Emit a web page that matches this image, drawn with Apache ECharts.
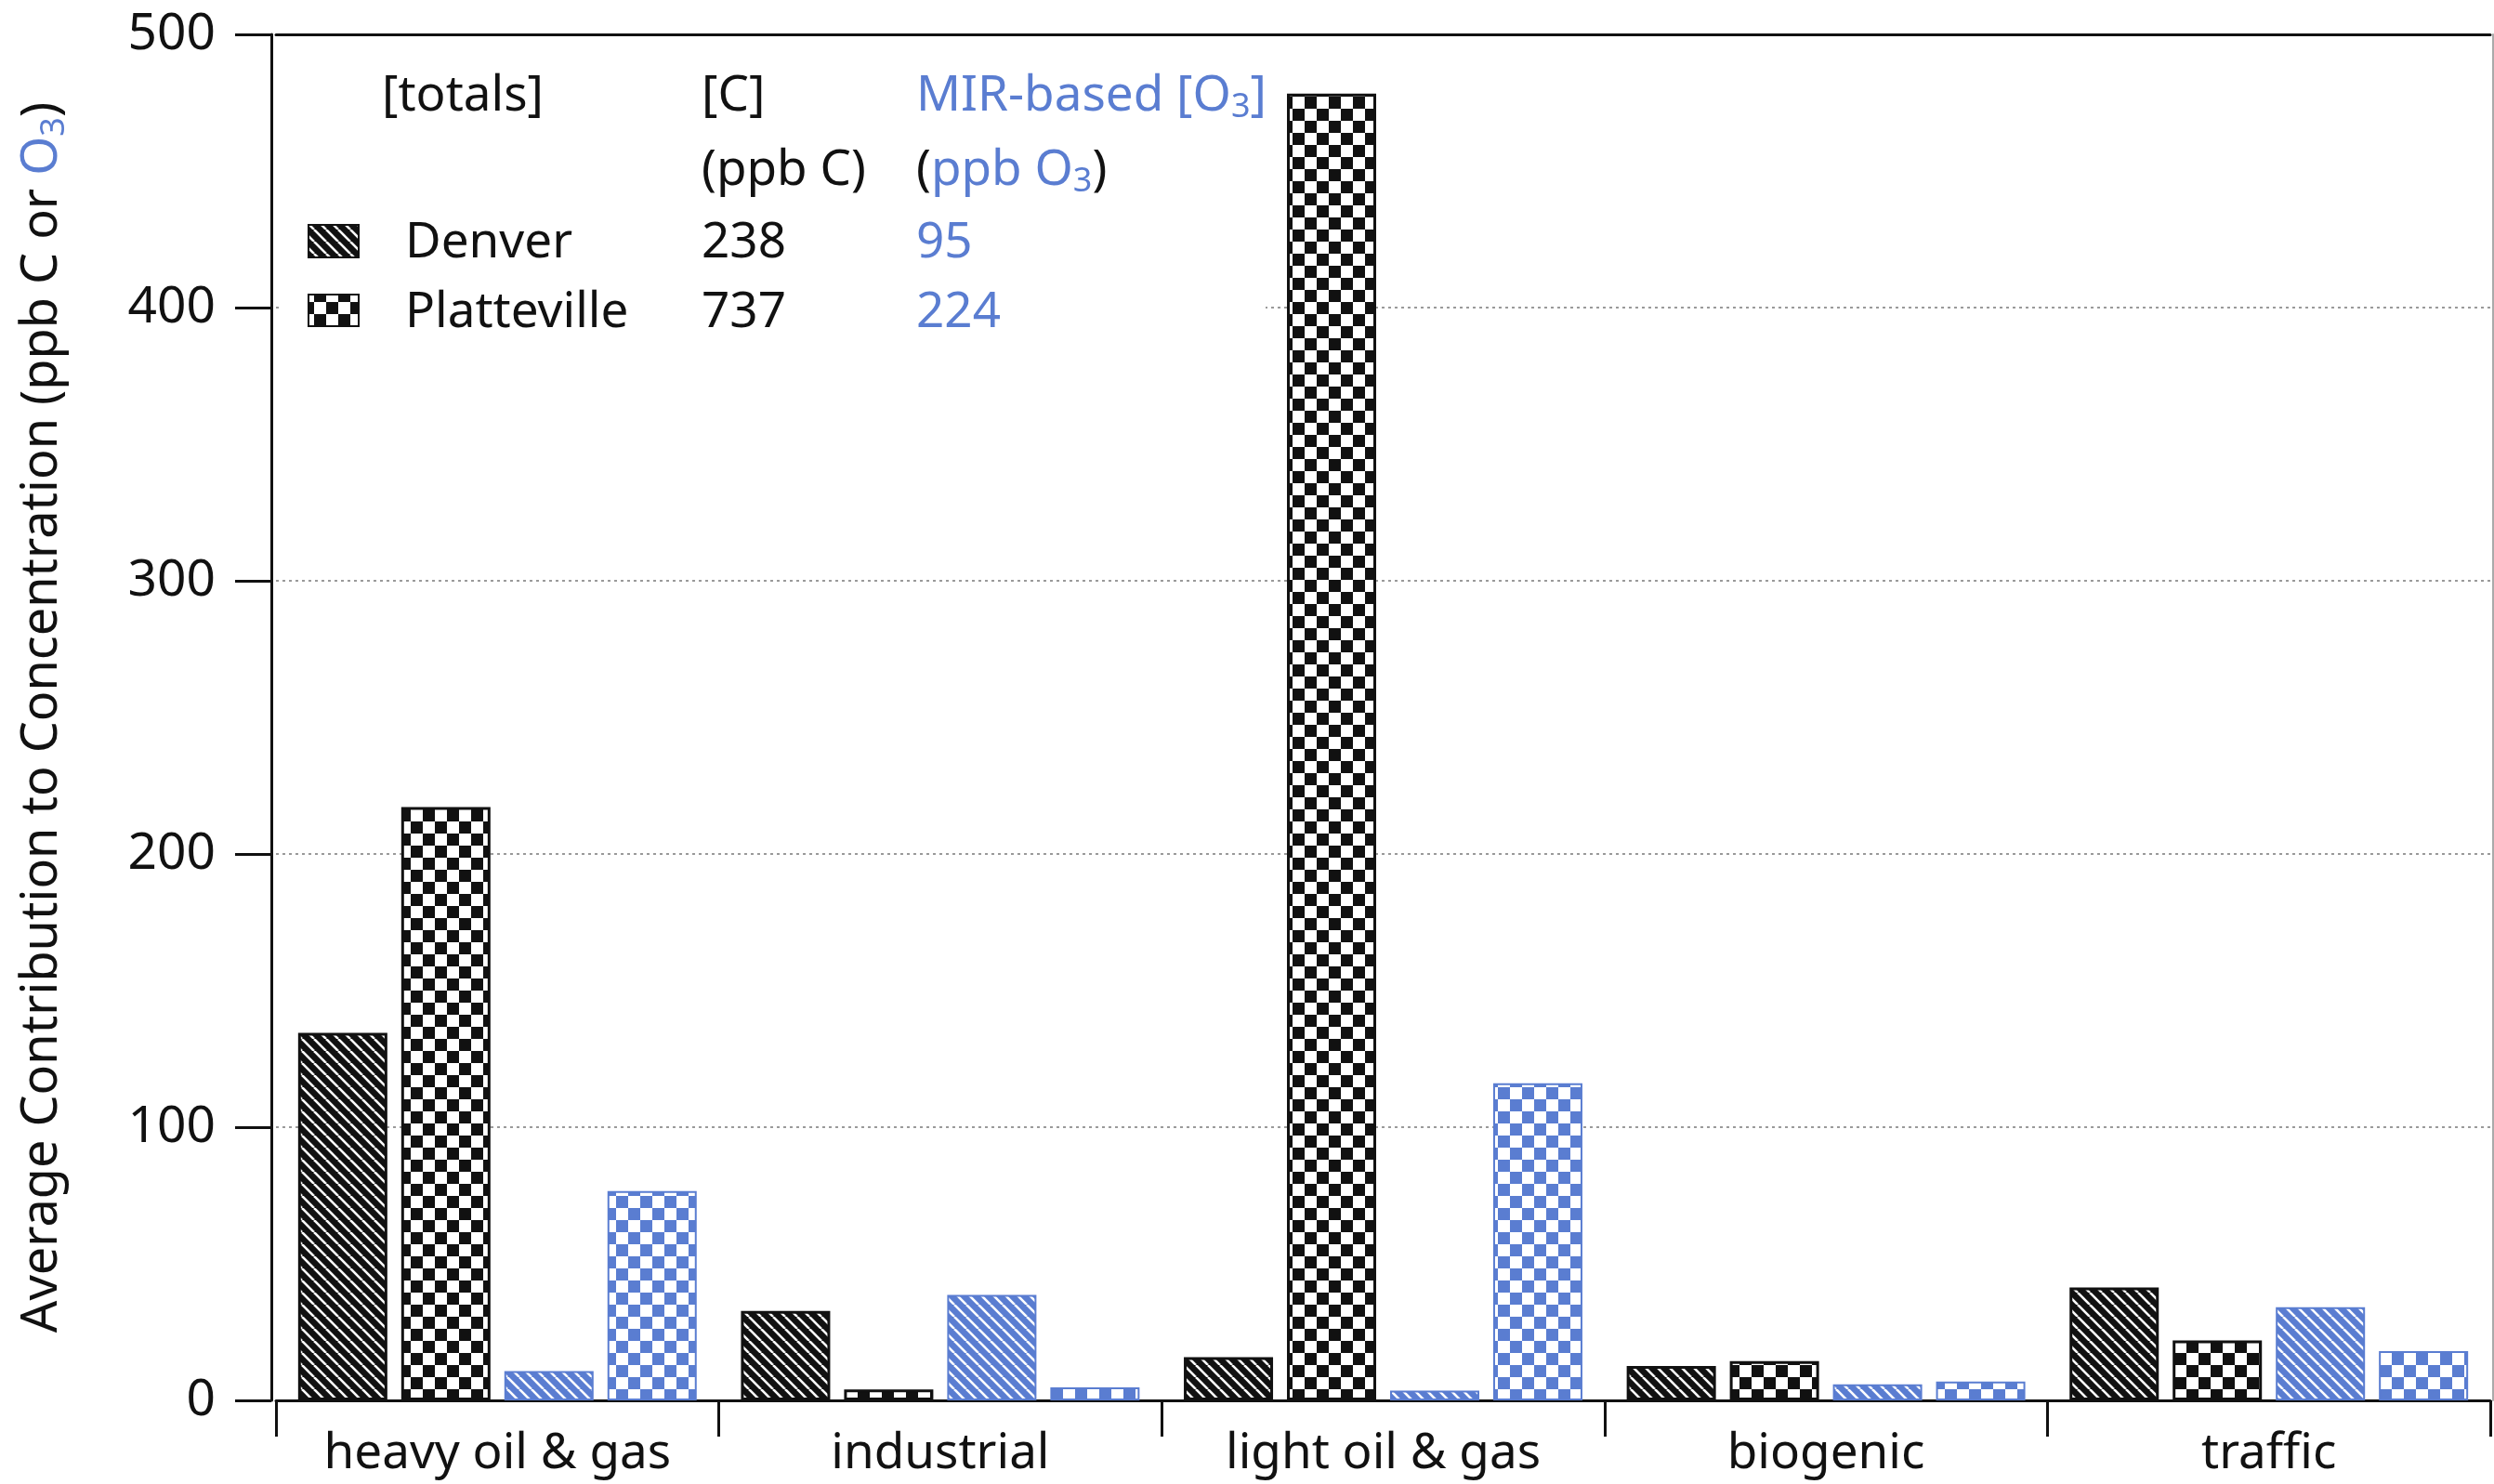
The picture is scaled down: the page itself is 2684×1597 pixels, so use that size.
<!DOCTYPE html>
<html>
<head>
<meta charset="utf-8">
<script src="https://cdn.jsdelivr.net/npm/echarts@6/dist/echarts.min.js"></script>
<style>
html,body{margin:0;padding:0;background:#fff;}
#chart{width:2684px;height:1597px;}
</style>
</head>
<body>
<div id="chart"></div>
<script>
// ---- data ----
const categories = ['heavy oil & gas', 'industrial', 'light oil & gas', 'biogenic', 'traffic'];
const denverC = [134.5, 32.7, 15.8, 12.6, 41.3];
const plattevilleC = [217.2, 4.0, 478.3, 14.4, 21.9];
const denverO3 = [10.7, 38.6, 3.6, 5.9, 34.1];
const plattevilleO3 = [76.6, 4.8, 116.1, 6.9, 18.0];
const sites = ['Denver', 'Platteville'];
const totalsC = [238, 737];
const totalsO3 = [95, 224];
const yTicks = [0, 100, 200, 300, 400, 500];

// ---- styles ----
const BLACK = '#111111';
const BLUE = '#5a7dd1';
const FONT = 'Noto Sans';
const FS = 53;

function hatch(bg) {
  const s = 13;
  const c = document.createElement('canvas');
  c.width = s; c.height = s;
  const g = c.getContext('2d');
  g.fillStyle = bg; g.fillRect(0, 0, s, s);
  g.strokeStyle = '#ffffff'; g.lineWidth = 2.6;
  for (const k of [-s, 0, s]) {
    g.beginPath(); g.moveTo(k, 0); g.lineTo(k + s, s); g.stroke();
  }
  return c;
}
function checker(fg) {
  const s = 13;
  const c = document.createElement('canvas');
  c.width = 2 * s; c.height = 2 * s;
  const g = c.getContext('2d');
  g.fillStyle = '#ffffff'; g.fillRect(0, 0, 2 * s, 2 * s);
  g.fillStyle = fg;
  g.fillRect(0, 0, s, s); g.fillRect(s, s, s, s);
  return c;
}
const patBlackHatch = {image: hatch(BLACK), repeat: 'repeat'};
const patBlackCheck = {image: checker(BLACK), repeat: 'repeat'};
const patBlueHatch = {image: hatch(BLUE), repeat: 'repeat'};
const patBlueCheck = {image: checker(BLUE), repeat: 'repeat'};

const chart = echarts.init(document.getElementById('chart'), null, {renderer: 'canvas'});

function barSeries(name, data, pattern, border, bw) {
  return {
    name: name, type: 'bar', data: data,
    barWidth: 96, barGap: '15.6%',
    xAxisIndex: 0, yAxisIndex: 0,
    itemStyle: {color: pattern, borderColor: border, borderWidth: bw},
    emphasis: {disabled: true},
    animation: false
  };
}

// rich styles for echarts text (color) and for zrender graphic text (fill)
const richAxis = {
  k: {fontFamily: FONT, fontSize: 54, color: BLACK, lineHeight: 62},
  b: {fontFamily: FONT, fontSize: 54, color: BLUE, lineHeight: 62},
  bs: {fontFamily: FONT, fontSize: 36, color: BLUE, lineHeight: 32, verticalAlign: 'bottom'}
};
const richG = {
  k: {fontFamily: FONT, fontSize: FS, fill: BLACK, lineHeight: 60},
  b: {fontFamily: FONT, fontSize: FS, fill: BLUE, lineHeight: 60},
  bs: {fontFamily: FONT, fontSize: 36, fill: BLUE, lineHeight: 30, verticalAlign: 'bottom'}
};

function gtext(x, y, text, extra) {
  return {
    type: 'text', x: x, y: y, z: 20,
    style: Object.assign({text: text, fontFamily: FONT, fontSize: FS, fill: BLACK, verticalAlign: 'middle', align: 'left'}, extra || {})
  };
}

const legendGraphics = [
  {type: 'rect', shape: {x: 300, y: 42, width: 1062, height: 330}, style: {fill: '#ffffff'}, z: 15},
  gtext(411, 104, '[totals]'),
  gtext(755, 104, '[C]'),
  gtext(986, 104, '{b|MIR-based [O}{bs|3}{b|]}', {rich: richG}),
  gtext(755, 184, '(ppb C)'),
  gtext(986, 184, '{k|(}{b|ppb O}{bs|3}{k|)}', {rich: richG}),
  {type: 'rect', shape: {x: 332, y: 242, width: 54, height: 35}, style: {fill: patBlackHatch, stroke: BLACK, lineWidth: 2}, z: 20},
  {type: 'rect', shape: {x: 332, y: 317, width: 54, height: 34}, style: {fill: patBlackCheck, stroke: BLACK, lineWidth: 2}, z: 20},
  gtext(436, 262, sites[0]),
  gtext(436, 337, sites[1]),
  gtext(755, 262, String(totalsC[0])),
  gtext(755, 337, String(totalsC[1])),
  gtext(986, 262, String(totalsO3[0]), {fill: BLUE}),
  gtext(986, 337, String(totalsO3[1]), {fill: BLUE})
];

const option = {
  backgroundColor: '#ffffff',
  animation: false,
  grid: {left: 297, right: 4, top: 37, bottom: 90, containLabel: false, outerBoundsMode: 'none'},
  xAxis: [
    {
      type: 'category', data: categories, position: 'bottom',
      axisLine: {show: true, onZero: false, lineStyle: {color: BLACK, width: 3}},
      axisTick: {show: true, length: 39, interval: 0, lineStyle: {color: BLACK, width: 3}},
      axisLabel: {fontFamily: FONT, fontSize: FS, color: BLACK, margin: 31, interval: 0},
      splitLine: {show: false}
    },
    {
      type: 'category', data: categories, position: 'top',
      axisLine: {show: true, onZero: false, lineStyle: {color: BLACK, width: 3}},
      axisTick: {show: false}, axisLabel: {show: false}, splitLine: {show: false}
    }
  ],
  yAxis: [
    {
      type: 'value', min: yTicks[0], max: yTicks[yTicks.length - 1], interval: 100,
      position: 'left', offset: 5,
      name: '{k|Average Contribution to Concentration (ppb C or }{b|O}{bs|3}{k|)}',
      nameLocation: 'middle', nameRotate: 90, nameGap: 215,
      nameTextStyle: {rich: richAxis},
      axisLine: {show: true, onZero: false, lineStyle: {color: BLACK, width: 3}},
      axisTick: {show: true, length: 39, inside: false, lineStyle: {color: BLACK, width: 3}},
      axisLabel: {fontFamily: FONT, fontSize: 55, color: BLACK, margin: 60},
      splitLine: {show: true, lineStyle: {color: '#9a9a9a', width: 2, type: [3, 4]}}
    },
    {
      type: 'value', min: 0, max: 500, position: 'right', offset: 3,
      axisLine: {show: true, onZero: false, lineStyle: {color: '#aaaaaa', width: 2}},
      axisTick: {show: false}, axisLabel: {show: false}, splitLine: {show: false}
    }
  ],
  series: [
    barSeries('Denver [C]', denverC, patBlackHatch, BLACK, 3),
    barSeries('Platteville [C]', plattevilleC, patBlackCheck, BLACK, 3),
    barSeries('Denver [O3]', denverO3, patBlueHatch, BLUE, 2),
    barSeries('Platteville [O3]', plattevilleO3, patBlueCheck, BLUE, 2)
  ],
  graphic: legendGraphics
};
chart.setOption(option);
</script>
</body>
</html>
